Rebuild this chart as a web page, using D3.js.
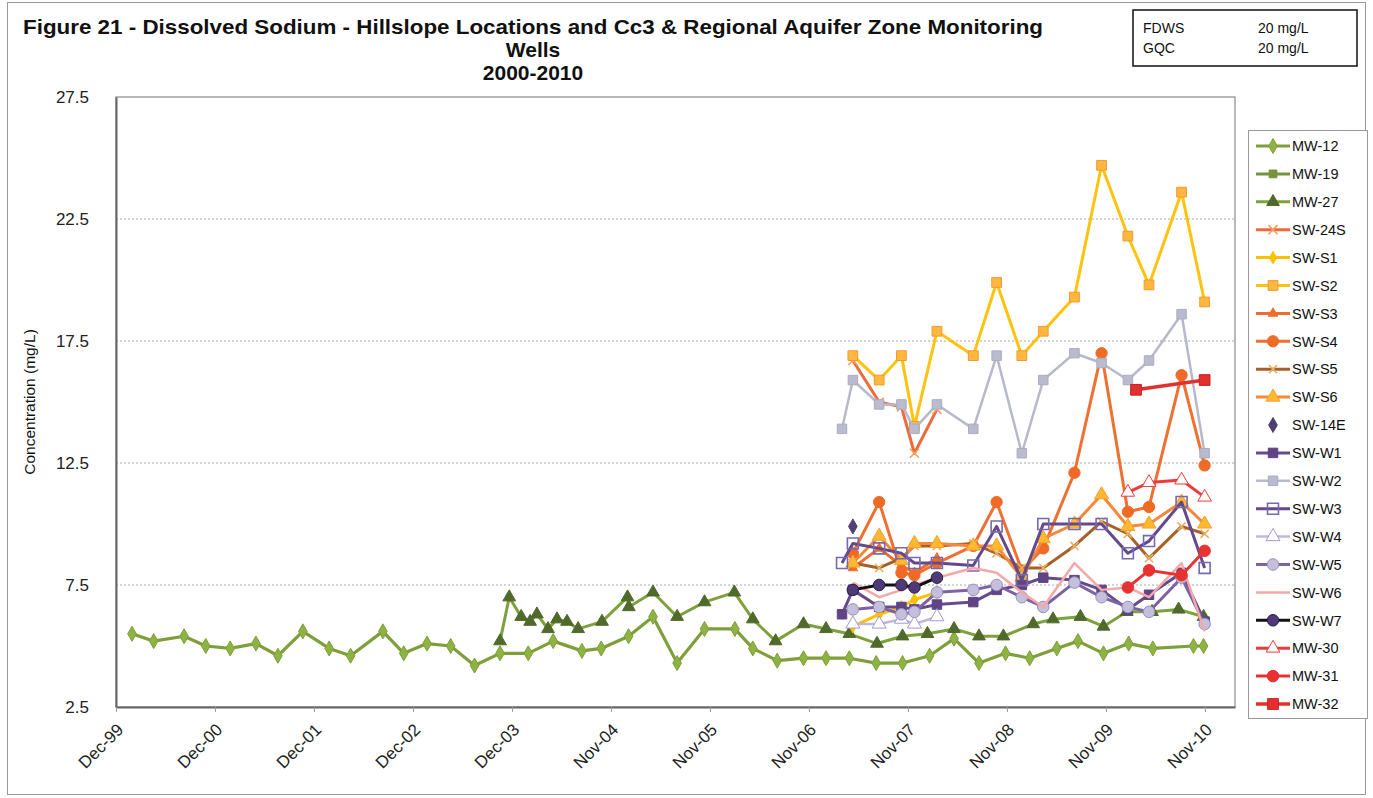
<!DOCTYPE html>
<html>
<head>
<meta charset="utf-8">
<script src="https://cdn.jsdelivr.net/npm/d3@7"></script>
<style>
  body { margin: 0; background: #fff; }
  text { font-family: Arial, "Liberation Sans", sans-serif; }
</style>
</head>
<body>
<svg id="chart" width="1373" height="798"></svg>
<script>
// ---- data ----
const mw12Dates = ["2000-01-30","2000-04-19","2000-08-09","2000-10-28","2001-01-26","2001-05-01","2001-07-21","2001-10-21",
  "2002-01-26","2002-04-15","2002-08-12","2002-10-28","2003-01-22","2003-04-19","2003-07-16","2003-10-18","2004-01-30",
  "2004-05-01","2004-08-15","2004-10-25","2005-02-03","2005-05-04","2005-08-01","2005-11-10","2006-03-02","2006-05-07",
  "2006-08-05","2006-11-10","2007-02-01","2007-04-28","2007-08-05","2007-11-10","2008-02-18","2008-05-18","2008-08-18",
  "2008-11-24","2009-02-21","2009-06-01","2009-08-18","2009-11-20","2010-02-21","2010-05-21","2010-10-18","2010-11-24"];
const mw12Values = [5.5,5.2,5.4,5.0,4.9,5.1,4.6,5.6,4.9,4.6,5.6,4.7,5.1,5.0,4.2,4.7,4.7,5.2,4.8,4.9,
  5.4,6.2,4.3,5.7,5.7,4.9,4.4,4.5,4.5,4.5,4.3,4.3,4.6,5.3,4.3,4.7,4.5,4.9,5.2,4.7,5.1,4.9,5.0,5.0];

const mw27Dates = ["2003-10-18","2003-11-21","2004-01-04","2004-02-06","2004-03-02","2004-04-12","2004-05-15","2004-06-21",
  "2004-08-01","2004-10-28","2005-01-30","2005-02-04","2005-05-04","2005-08-01","2005-11-10","2006-02-28","2006-05-07",
  "2006-07-30","2006-11-10","2007-02-01","2007-04-28","2007-08-08","2007-11-10","2008-02-10","2008-05-18","2008-08-18",
  "2008-11-16","2009-03-06","2009-05-18","2009-08-27","2009-11-20","2010-02-14","2010-05-18","2010-08-24","2010-11-24"];
const mw27Values = [5.2,7.0,6.2,6.0,6.3,5.7,6.1,6.0,5.7,6.0,7.0,6.6,7.2,6.2,6.8,7.2,6.1,5.2,5.9,5.7,
  5.5,5.1,5.4,5.5,5.7,5.4,5.4,5.9,6.1,6.2,5.8,6.4,6.4,6.5,6.2];

// shared sampling rounds of the SW wells
const swDates = ["2007-04-01","2007-05-11","2007-08-16","2007-11-06","2007-12-24","2008-03-16","2008-07-28","2008-10-22",
  "2009-01-23","2009-04-12","2009-08-05","2009-11-13","2010-02-18","2010-05-07","2010-09-04","2010-11-28"];

const sw24sValues = [null,16.7,15.0,14.8,12.9,14.7,null,null,null,null,null,null,null,null,null,null];
const swS1Values  = [null,5.8,6.3,6.6,6.9,7.2,null,null,null,null,null,null,null,null,null,null];
const swS2Values  = [null,16.9,15.9,16.9,14.0,17.9,16.9,19.9,16.9,17.9,19.3,24.7,21.8,19.8,23.6,19.1];
const swS3Values  = [null,8.2,9.0,8.3,8.0,8.6,null,null,null,null,null,null,null,null,null,null];
const swS4Values  = [null,8.8,10.9,8.0,7.9,8.4,9.1,10.9,8.1,9.0,12.1,17.0,10.5,10.7,16.1,12.4];
const swS5Values  = [null,8.4,8.2,8.6,9.1,9.1,9.2,8.8,8.2,8.2,9.1,10.1,9.6,8.6,9.9,9.6];
const swS6Values  = [null,8.4,9.5,8.5,9.2,9.2,9.1,9.1,7.8,9.4,10.0,11.2,9.9,10.0,10.9,10.0];
const sw14eValues = [null,9.9,null,null,null,null,null,null,null,null,null,null,null,null,null,null];
const swW1Values  = [6.3,7.3,6.6,6.6,6.5,6.7,6.8,7.3,7.5,7.8,7.7,7.3,6.5,7.1,8.0,6.0];
const swW2Values  = [13.9,15.9,14.9,14.9,13.9,14.9,13.9,16.9,12.9,15.9,17.0,16.6,15.9,16.7,18.6,12.9];
const swW3Values  = [8.4,9.2,9.0,8.8,8.4,8.4,8.3,9.9,7.7,10.0,10.0,10.0,8.8,9.3,10.9,8.2];
const swW4Values  = [null,5.9,5.9,6.1,5.9,6.2,null,null,null,null,null,null,null,null,null,null];
const swW5Values  = [null,6.5,6.6,6.3,6.4,7.2,7.3,7.5,7.0,6.6,7.6,7.0,6.6,6.4,7.8,5.9];
const swW6Values  = [null,7.6,7.0,7.3,7.5,7.8,8.2,8.0,7.2,6.6,8.4,7.3,7.4,7.0,8.4,5.6];
const swW7Values  = [null,7.3,7.5,7.5,7.4,7.8,null,null,null,null,null,null,null,null,null,null];
const mw30Values  = [null,null,null,null,null,null,null,null,null,null,null,null,11.3,11.7,11.8,11.1];
const mw31Values  = [null,null,null,null,null,null,null,null,null,null,null,null,7.4,8.1,7.9,8.9];

const mw32Dates  = ["2010-03-20","2010-11-28"];
const mw32Values = [15.5,15.9];

const yTickValues = [2.5, 7.5, 12.5, 17.5, 22.5, 27.5];
const axisStart = "1999-12-02";   // first date tick, ticks every 365 days
const tickCount = 12;

// ---- series styling ----
const series = [
  {name:"MW-12",  dates:mw12Dates, values:mw12Values, line:"#7E9F3A", marker:"diamond",  fill:"#8DB443", stroke:"#7E9F3A", lw:3.2, size:65},
  {name:"MW-19",  dates:[],        values:[],         line:"#77933C", marker:"square",   fill:"#77933C", stroke:"#77933C", lw:3, size:60},
  {name:"MW-27",  dates:mw27Dates, values:mw27Values, line:"#7DA13C", marker:"triangle", fill:"#4F6A2A", stroke:"#4F6A2A", lw:3, size:70},
  {name:"SW-24S", dates:swDates,   values:sw24sValues, line:"#EE6A3A", marker:"x",       fill:"none",    stroke:"#F3A060", lw:3, size:55},
  {name:"SW-S1",  dates:swDates,   values:swS1Values, line:"#FFC000", marker:"diamond",  fill:"#FFC000", stroke:"#FFC000", lw:3, size:45},
  {name:"SW-S2",  dates:swDates,   values:swS2Values, line:"#FFC30F", marker:"square",   fill:"#FFB740", stroke:"#F39A2E", lw:3, size:95},
  {name:"SW-S3",  dates:swDates,   values:swS3Values, line:"#F26C2B", marker:"triangle", fill:"#F26C2B", stroke:"#F26C2B", lw:3, size:40},
  {name:"SW-S4",  dates:swDates,   values:swS4Values, line:"#EF7030", marker:"circle",   fill:"#EE6A25", stroke:"#EE6A25", lw:3, size:100},
  {name:"SW-S5",  dates:swDates,   values:swS5Values, line:"#A8602A", marker:"x",        fill:"none",    stroke:"#E8B060", lw:3, size:45},
  {name:"SW-S6",  dates:swDates,   values:swS6Values, line:"#F5883A", marker:"triangle", fill:"#FFB830", stroke:"#F5A030", lw:3, size:85},
  {name:"SW-14E", dates:swDates,   values:sw14eValues, line:null,     marker:"diamond",  fill:"#4E4170", stroke:"#4E4170", lw:0, size:65},
  {name:"SW-W1",  dates:swDates,   values:swW1Values, line:"#654B8A", marker:"square",   fill:"#5F4585", stroke:"#5F4585", lw:3, size:90},
  {name:"SW-W2",  dates:swDates,   values:swW2Values, line:"#B8B8CC", marker:"square",   fill:"#BBBBCF", stroke:"#ABABC2", lw:2.5, size:90},
  {name:"SW-W3",  dates:swDates,   values:swW3Values, line:"#634A8C", marker:"square",   fill:"none",    stroke:"#7868B0", lw:3, size:120, open:true},
  {name:"SW-W4",  dates:swDates,   values:swW4Values, line:"#C0B8DC", marker:"triangle", fill:"#fff",    stroke:"#A898D0", lw:2.5, size:85},
  {name:"SW-W5",  dates:swDates,   values:swW5Values, line:"#7D62A6", marker:"circle",   fill:"#C4C0DC", stroke:"#9A8EC0", lw:3, size:105},
  {name:"SW-W6",  dates:swDates,   values:swW6Values, line:"#F5A8A8", marker:null,       fill:"none",    stroke:"none",    lw:2.5, size:0},
  {name:"SW-W7",  dates:swDates,   values:swW7Values, line:"#111111", marker:"circle",   fill:"#4E3A78", stroke:"#2A2040", lw:3, size:105},
  {name:"MW-30",  dates:swDates,   values:mw30Values, line:"#EE3A3A", marker:"triangle", fill:"#fff",    stroke:"#EE3A3A", lw:3, size:80},
  {name:"MW-31",  dates:swDates,   values:mw31Values, line:"#E83232", marker:"circle",   fill:"#E83232", stroke:"#E83232", lw:3, size:105},
  {name:"MW-32",  dates:mw32Dates, values:mw32Values, line:"#E23030", marker:"square",   fill:"#E23030", stroke:"#C82020", lw:3.5, size:115}
];

const parse = d3.timeParse("%Y-%m-%d");
const svg = d3.select("#chart");

const plot = {left: 116, right: 1235, top: 97, bottom: 707};

const x = d3.scaleTime()
  .domain([parse(axisStart), parse("2011-03-20")])
  .range([plot.left, plot.right]);

const y = d3.scaleLinear()
  .domain([2.5, 27.5])
  .range([plot.bottom, plot.top]);

const xTicks = d3.range(tickCount).map(i => d3.timeDay.offset(parse(axisStart), i * 365));

// outer chart border
svg.append("rect")
  .attr("x", 7.5).attr("y", 2.5).attr("width", 1358).attr("height", 792)
  .attr("fill", "none").attr("stroke", "#9a9a9a").attr("stroke-width", 1);

// title
const title = svg.append("g").attr("font-weight", "bold").attr("font-size", 21).attr("fill", "#111");
title.append("text").attr("x", 23).attr("y", 34)
  .attr("textLength", 1020).attr("lengthAdjust", "spacingAndGlyphs")
  .text("Figure 21 - Dissolved Sodium - Hillslope Locations and Cc3 & Regional  Aquifer Zone Monitoring");
title.append("text").attr("x", 533).attr("y", 57).attr("text-anchor", "middle").text("Wells");
title.append("text").attr("x", 533).attr("y", 80).attr("text-anchor", "middle").text("2000-2010");

// standards box
const std = svg.append("g").attr("font-size", 14).attr("fill", "#111");
std.append("rect").attr("x", 1133).attr("y", 10).attr("width", 224).attr("height", 56)
  .attr("fill", "#fff").attr("stroke", "#111").attr("stroke-width", 1.5);
std.append("text").attr("x", 1143).attr("y", 33).text("FDWS");
std.append("text").attr("x", 1258).attr("y", 33).text("20 mg/L");
std.append("text").attr("x", 1143).attr("y", 53).text("GQC");
std.append("text").attr("x", 1258).attr("y", 53).text("20 mg/L");

// gridlines
svg.append("g")
  .selectAll("line")
  .data(yTickValues.slice(1, -1))
  .join("line")
  .attr("x1", plot.left).attr("x2", plot.right)
  .attr("y1", d => y(d)).attr("y2", d => y(d))
  .attr("stroke", "#a8a8a8").attr("stroke-width", 1).attr("stroke-dasharray", "2,2");

// plot frame
svg.append("rect")
  .attr("x", plot.left).attr("y", plot.top)
  .attr("width", plot.right - plot.left).attr("height", plot.bottom - plot.top)
  .attr("fill", "none").attr("stroke", "#8a8a8a").attr("stroke-width", 1.2);

// y axis
const yAxis = svg.append("g")
  .attr("transform", `translate(${plot.left},0)`)
  .call(d3.axisLeft(y).tickValues(yTickValues).tickFormat(d3.format(".1f")).tickSize(0).tickPadding(27));
yAxis.select(".domain").attr("stroke", "#666").attr("stroke-width", 2);
yAxis.selectAll("text").attr("font-size", 17).attr("fill", "#222")
  .style("font-family", "Arial, 'Liberation Sans', sans-serif");

// x axis
const xAxis = svg.append("g")
  .attr("transform", `translate(0,${plot.bottom})`)
  .call(d3.axisBottom(x).tickValues(xTicks).tickFormat(d3.timeFormat("%b-%y")).tickSize(5).tickSizeOuter(0));
xAxis.select(".domain").attr("stroke", "#666").attr("stroke-width", 2);
xAxis.selectAll(".tick line").attr("stroke", "#999");
xAxis.selectAll("text")
  .attr("font-size", 17).attr("fill", "#222")
  .style("font-family", "Arial, 'Liberation Sans', sans-serif")
  .attr("text-anchor", "end")
  .attr("dy", "0.35em")
  .attr("transform", "translate(-2,14) rotate(-45)");

// y title
svg.append("text")
  .attr("transform", "translate(35,402) rotate(-90)")
  .attr("text-anchor", "middle").attr("font-size", 15.5).attr("fill", "#111")
  .text("Concentration (mg/L)");

// markers
const symbolType = {
  diamond: d3.symbolDiamond, square: d3.symbolSquare, triangle: d3.symbolTriangle,
  circle: d3.symbolCircle, x: d3.symbolX
};

function drawMarker(g, s) {
  if (!s.marker) return;
  g.append("path")
    .attr("d", d3.symbol().type(symbolType[s.marker]).size(s.size)())
    .attr("fill", s.marker === "x" ? "none" : s.fill)
    .attr("stroke", s.stroke)
    .attr("stroke-width", s.marker === "x" ? 1.6 : (s.open ? 1.6 : 1));
}

// series lines and markers
const line = d3.line().x(d => x(d.date)).y(d => y(d.value));
const dataLayer = svg.append("g");

series.forEach(s => {
  const pts = s.dates
    .map((d, i) => ({date: parse(d), value: s.values[i]}))
    .filter(p => p.value != null);
  if (!pts.length) return;
  const g = dataLayer.append("g");
  if (s.line) {
    g.append("path").datum(pts)
      .attr("d", line)
      .attr("fill", "none")
      .attr("stroke", s.line)
      .attr("stroke-width", s.lw)
      .attr("stroke-linejoin", "round");
  }
  g.selectAll("g.pt").data(pts).join("g")
    .attr("class", "pt")
    .attr("transform", p => `translate(${x(p.date)},${y(p.value)})`)
    .each(function() { drawMarker(d3.select(this), s); });
});

// legend
const legend = svg.append("g");
legend.append("rect")
  .attr("x", 1248.5).attr("y", 130.5).attr("width", 119).attr("height", 588)
  .attr("fill", "#fff").attr("stroke", "#9a9a9a");

const rowStep = 27.9;
const rows = legend.selectAll("g.row").data(series).join("g")
  .attr("class", "row")
  .attr("transform", (d, i) => `translate(1273,${146 + i * rowStep})`);

rows.each(function(s) {
  const r = d3.select(this);
  if (s.line) {
    r.append("line").attr("x1", -17).attr("x2", 17)
      .attr("stroke", s.line).attr("stroke-width", s.lw);
  }
  drawMarker(r, s);
});
rows.append("text")
  .attr("x", 19).attr("dy", "0.36em")
  .attr("font-size", 14.5).attr("fill", "#111")
  .text(d => d.name);
</script>
</body>
</html>
